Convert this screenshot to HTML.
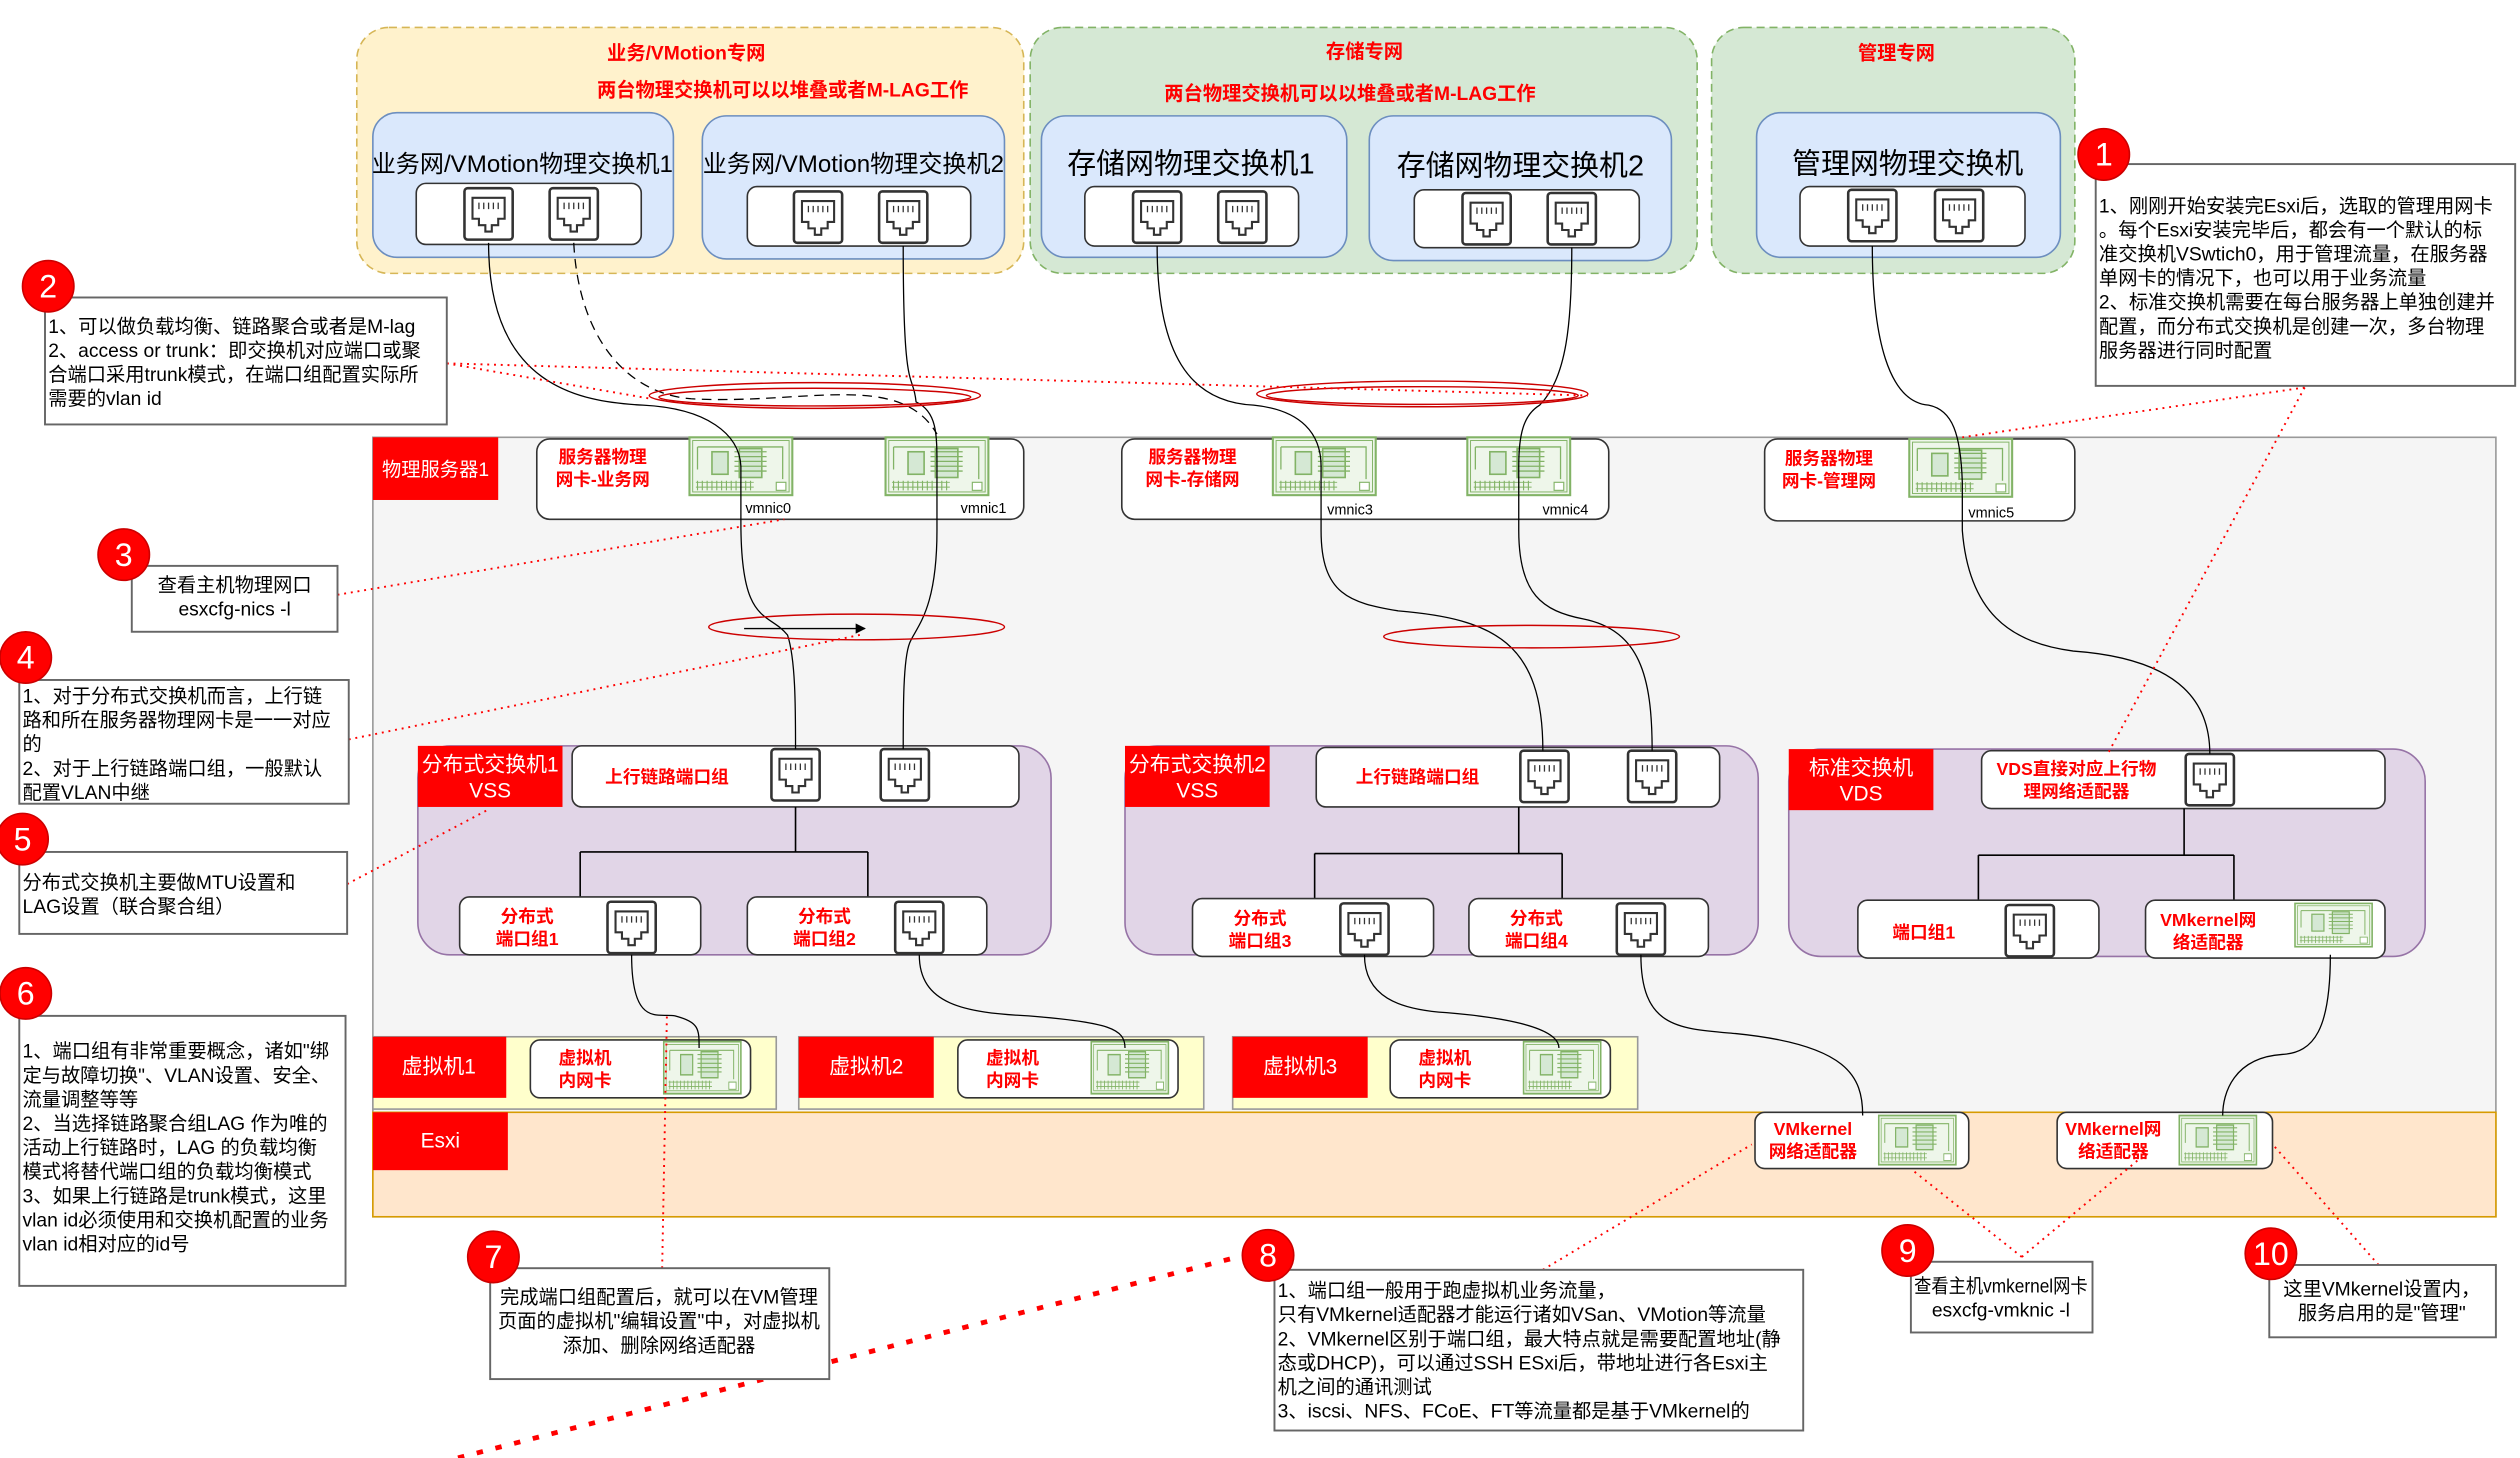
<!DOCTYPE html>
<html><head><meta charset="utf-8">
<style>
html,body{margin:0;padding:0;background:#fff;}
svg{display:block;}
text{font-family:"Liberation Sans","Noto Sans CJK SC",sans-serif;}
.r{fill:#ff0000;font-weight:bold;font-size:11px;}
.c{font-size:12px;fill:#000;}
.w{fill:#fff;font-size:13px;}
</style></head><body>
<svg width="2520" height="1458" viewBox="0 0 1568 907" xmlns="http://www.w3.org/2000/svg">
<defs>
<g id="port">
<rect x="0" y="0" width="30" height="32" rx="2" fill="#fff" stroke="#333" stroke-width="1.6"/>
<path d="M5 6 H25 V19 H21 V23 H17 V27 H13 V23 H9 V19 H5 Z" fill="none" stroke="#333" stroke-width="1.3"/>
<path d="M9 9 V13 M12 9 V13 M15 9 V13 M18 9 V13 M21 9 V13" stroke="#333" stroke-width="0.8"/>
</g>
<g id="nic">
<rect x="0" y="0" width="64" height="36" fill="#eef6ea" stroke="#82b366" stroke-width="1.3"/>
<rect x="2" y="2" width="60" height="32" fill="none" stroke="#82b366" stroke-width="0.6"/>
<rect x="14" y="9" width="10" height="14" fill="#d5e8d4" stroke="#82b366"/>
<rect x="31" y="7" width="14" height="18" fill="#d5e8d4" stroke="#82b366"/>
<path d="M28 9 H48 M28 12 H48 M28 15 H48 M28 18 H48 M28 21 H48" stroke="#82b366" stroke-width="0.8"/>
<path d="M5 6 H58 V26 M5 6 V20" fill="none" stroke="#82b366" stroke-width="0.8"/>
<path d="M4 28 H40 M4 31 H40" stroke="#82b366" stroke-width="0.6"/>
<path d="M5 27 V33 M8 27 V33 M11 27 V33 M14 27 V33 M17 27 V33 M20 27 V33 M23 27 V33 M26 27 V33 M29 27 V33 M32 27 V33 M35 27 V33 M38 27 V33" stroke="#82b366" stroke-width="0.7"/>
<rect x="54" y="28" width="6" height="5" fill="#fff" stroke="#82b366" stroke-width="0.7"/>
</g>
<marker id="ah" markerWidth="8" markerHeight="8" refX="7" refY="4" orient="auto"><path d="M0 0 L8 4 L0 8 Z" fill="#000"/></marker>
</defs>

<rect x="222" y="17" width="415" height="153" rx="20" fill="#fff2cc" stroke="#d6b656" stroke-dasharray="5,3"/>
<text x="427" y="37" class="r" text-anchor="middle" style="font-size:12px">业务/VMotion专网</text>
<text x="487" y="60" class="r" text-anchor="middle" style="font-size:12px">两台物理交换机可以以堆叠或者M-LAG工作</text>
<rect x="641" y="17" width="415" height="153" rx="20" fill="#d5e8d4" stroke="#82b366" stroke-dasharray="5,3"/>
<text x="849" y="36" class="r" text-anchor="middle" style="font-size:12px">存储专网</text>
<text x="840" y="62" class="r" text-anchor="middle" style="font-size:12px">两台物理交换机可以以堆叠或者M-LAG工作</text>
<rect x="1065" y="17" width="226" height="153" rx="20" fill="#d5e8d4" stroke="#82b366" stroke-dasharray="5,3"/>
<text x="1180" y="37" class="r" text-anchor="middle" style="font-size:12px">管理专网</text>

<rect x="232" y="70" width="187" height="90" rx="15" fill="#dae8fc" stroke="#6c8ebf"/>
<text x="325" y="107" text-anchor="middle" font-size="15">业务网/VMotion物理交换机1</text>
<rect x="259" y="114" width="140" height="38" rx="6" fill="#fff" stroke="#333"/>
<use href="#port" x="289" y="117"/><use href="#port" x="342" y="117"/>

<rect x="437" y="72" width="188" height="89" rx="15" fill="#dae8fc" stroke="#6c8ebf"/>
<text x="531" y="107" text-anchor="middle" font-size="15">业务网/VMotion物理交换机2</text>
<rect x="465" y="116" width="139" height="37" rx="6" fill="#fff" stroke="#333"/>
<use href="#port" x="494" y="119"/><use href="#port" x="547" y="119"/>

<rect x="648" y="72" width="190" height="88" rx="15" fill="#dae8fc" stroke="#6c8ebf"/>
<text x="741" y="108" text-anchor="middle" font-size="18">存储网物理交换机1</text>
<rect x="675" y="116" width="133" height="37" rx="6" fill="#fff" stroke="#333"/>
<use href="#port" x="705" y="119"/><use href="#port" x="758" y="119"/>

<rect x="852" y="72" width="188" height="90" rx="15" fill="#dae8fc" stroke="#6c8ebf"/>
<text x="946" y="109" text-anchor="middle" font-size="18">存储网物理交换机2</text>
<rect x="880" y="118" width="140" height="36" rx="6" fill="#fff" stroke="#333"/>
<use href="#port" x="910" y="120"/><use href="#port" x="963" y="120"/>

<rect x="1093" y="70" width="189" height="90" rx="15" fill="#dae8fc" stroke="#6c8ebf"/>
<text x="1187" y="108" text-anchor="middle" font-size="18">管理网物理交换机</text>
<rect x="1120" y="116" width="140" height="37" rx="6" fill="#fff" stroke="#333"/>
<use href="#port" x="1150" y="118"/><use href="#port" x="1204" y="118"/>

<rect x="232" y="272" width="1321" height="485" fill="#f5f5f5" stroke="#999"/>
<rect x="232" y="272" width="78" height="39" fill="#ff0000"/>
<text x="271" y="296" text-anchor="middle" class="w" style="font-size:12px">物理服务器1</text>

<rect x="334" y="273" width="303" height="50" rx="8" fill="#fff" stroke="#333"/>
<text x="375" y="288" class="r" text-anchor="middle">服务器物理</text>
<text x="375" y="302" class="r" text-anchor="middle">网卡-业务网</text>
<use href="#nic" x="429" y="272"/><use href="#nic" x="551" y="272"/>
<text x="478" y="319" font-size="9" text-anchor="middle">vmnic0</text>
<text x="612" y="319" font-size="9" text-anchor="middle">vmnic1</text>

<rect x="698" y="273" width="303" height="50" rx="8" fill="#fff" stroke="#333"/>
<text x="742" y="288" class="r" text-anchor="middle">服务器物理</text>
<text x="742" y="302" class="r" text-anchor="middle">网卡-存储网</text>
<use href="#nic" x="792" y="272"/><use href="#nic" x="913" y="272"/>
<text x="840" y="320" font-size="9" text-anchor="middle">vmnic3</text>
<text x="974" y="320" font-size="9" text-anchor="middle">vmnic4</text>

<rect x="1098" y="273" width="193" height="51" rx="8" fill="#fff" stroke="#333"/>
<text x="1138" y="289" class="r" text-anchor="middle">服务器物理</text>
<text x="1138" y="303" class="r" text-anchor="middle">网卡-管理网</text>
<use href="#nic" x="1188" y="273"/>
<text x="1239" y="322" font-size="9" text-anchor="middle">vmnic5</text>

<rect x="260" y="464" width="394" height="130" rx="20" fill="#e1d5e7" stroke="#9673a6"/>
<rect x="260" y="464" width="90" height="38" fill="#ff0000"/>
<text x="305" y="480" class="w" text-anchor="middle">分布式交换机1</text>
<text x="305" y="496" class="w" text-anchor="middle">VSS</text>
<rect x="356" y="464" width="278" height="38" rx="6" fill="#fff" stroke="#333"/>
<text x="415" y="487" class="r" text-anchor="middle">上行链路端口组</text>
<use href="#port" x="480" y="466"/><use href="#port" x="548" y="466"/>
<path d="M495 502 V530 M361 530 H540 M361 530 V558 M540 530 V558" stroke="#000" fill="none"/>
<rect x="286" y="558" width="150" height="36" rx="6" fill="#fff" stroke="#333"/>
<text x="328" y="574" class="r" text-anchor="middle">分布式</text>
<text x="328" y="588" class="r" text-anchor="middle">端口组1</text>
<use href="#port" x="378" y="561"/>
<rect x="465" y="558" width="149" height="36" rx="6" fill="#fff" stroke="#333"/>
<text x="513" y="574" class="r" text-anchor="middle">分布式</text>
<text x="513" y="588" class="r" text-anchor="middle">端口组2</text>
<use href="#port" x="557" y="561"/>

<rect x="700" y="464" width="394" height="130" rx="20" fill="#e1d5e7" stroke="#9673a6"/>
<rect x="700" y="464" width="90" height="38" fill="#ff0000"/>
<text x="745" y="480" class="w" text-anchor="middle">分布式交换机2</text>
<text x="745" y="496" class="w" text-anchor="middle">VSS</text>
<rect x="819" y="465" width="251" height="37" rx="6" fill="#fff" stroke="#333"/>
<text x="882" y="487" class="r" text-anchor="middle">上行链路端口组</text>
<use href="#port" x="946" y="467"/><use href="#port" x="1013" y="467"/>
<path d="M945 502 V531 M818 531 H972 M818 531 V559 M972 531 V559" stroke="#000" fill="none"/>
<rect x="742" y="559" width="150" height="36" rx="6" fill="#fff" stroke="#333"/>
<text x="784" y="575" class="r" text-anchor="middle">分布式</text>
<text x="784" y="589" class="r" text-anchor="middle">端口组3</text>
<use href="#port" x="834" y="562"/>
<rect x="914" y="559" width="149" height="36" rx="6" fill="#fff" stroke="#333"/>
<text x="956" y="575" class="r" text-anchor="middle">分布式</text>
<text x="956" y="589" class="r" text-anchor="middle">端口组4</text>
<use href="#port" x="1006" y="562"/>

<rect x="1113" y="466" width="396" height="129" rx="20" fill="#e1d5e7" stroke="#9673a6"/>
<rect x="1113" y="466" width="90" height="38" fill="#ff0000"/>
<text x="1158" y="482" class="w" text-anchor="middle">标准交换机</text>
<text x="1158" y="498" class="w" text-anchor="middle">VDS</text>
<rect x="1233" y="467" width="251" height="36" rx="6" fill="#fff" stroke="#333"/>
<text x="1292" y="482" class="r" text-anchor="middle">VDS直接对应上行物</text>
<text x="1292" y="496" class="r" text-anchor="middle">理网络适配器</text>
<use href="#port" x="1360" y="469"/>
<path d="M1359 503 V532 M1231 532 H1390 M1231 532 V560 M1390 532 V560" stroke="#000" fill="none"/>
<rect x="1156" y="560" width="150" height="36" rx="6" fill="#fff" stroke="#333"/>
<text x="1197" y="584" class="r" text-anchor="middle">端口组1</text>
<use href="#port" x="1248" y="563"/>
<rect x="1335" y="560" width="149" height="36" rx="6" fill="#fff" stroke="#333"/>
<text x="1374" y="576" class="r" text-anchor="middle">VMkernel网</text>
<text x="1374" y="590" class="r" text-anchor="middle">络适配器</text>
<use href="#nic" x="1428" y="562" transform="translate(1428 562) scale(0.75) translate(-1428 -562)"/>

<rect x="232" y="645" width="251" height="45" fill="#ffffcc" stroke="#999"/>
<rect x="232" y="645" width="83" height="38" fill="#ff0000"/>
<text x="273" y="668" class="w" text-anchor="middle">虚拟机1</text>
<rect x="330" y="647" width="137" height="36" rx="6" fill="#fff" stroke="#333"/>
<text x="364" y="662" class="r" text-anchor="middle">虚拟机</text>
<text x="364" y="676" class="r" text-anchor="middle">内网卡</text>
<use href="#nic" x="413" y="648" transform="translate(413 648) scale(0.75,0.9) translate(-413 -648)"/>

<rect x="497" y="645" width="252" height="45" fill="#ffffcc" stroke="#999"/>
<rect x="497" y="645" width="84" height="38" fill="#ff0000"/>
<text x="539" y="668" class="w" text-anchor="middle">虚拟机2</text>
<rect x="596" y="647" width="137" height="36" rx="6" fill="#fff" stroke="#333"/>
<text x="630" y="662" class="r" text-anchor="middle">虚拟机</text>
<text x="630" y="676" class="r" text-anchor="middle">内网卡</text>
<use href="#nic" x="679" y="648" transform="translate(679 648) scale(0.75,0.9) translate(-679 -648)"/>

<rect x="767" y="645" width="252" height="45" fill="#ffffcc" stroke="#999"/>
<rect x="767" y="645" width="84" height="38" fill="#ff0000"/>
<text x="809" y="668" class="w" text-anchor="middle">虚拟机3</text>
<rect x="865" y="647" width="137" height="36" rx="6" fill="#fff" stroke="#333"/>
<text x="899" y="662" class="r" text-anchor="middle">虚拟机</text>
<text x="899" y="676" class="r" text-anchor="middle">内网卡</text>
<use href="#nic" x="948" y="648" transform="translate(948 648) scale(0.75,0.9) translate(-948 -648)"/>

<rect x="232" y="692" width="1321" height="65" fill="#ffe6cc" stroke="#d79b00"/>
<rect x="232" y="692" width="84" height="36" fill="#ff0000"/>
<text x="274" y="714" class="w" text-anchor="middle">Esxi</text>
<rect x="1092" y="692" width="133" height="35" rx="6" fill="#fff" stroke="#333"/>
<text x="1128" y="706" class="r" text-anchor="middle">VMkernel</text>
<text x="1128" y="720" class="r" text-anchor="middle">网络适配器</text>
<use href="#nic" x="1169" y="694" transform="translate(1169 694) scale(0.75,0.85) translate(-1169 -694)"/>
<rect x="1280" y="692" width="134" height="35" rx="6" fill="#fff" stroke="#333"/>
<text x="1315" y="706" class="r" text-anchor="middle">VMkernel网</text>
<text x="1315" y="720" class="r" text-anchor="middle">络适配器</text>
<use href="#nic" x="1356" y="694" transform="translate(1356 694) scale(0.75,0.85) translate(-1356 -694)"/>

<g fill="none" stroke="#000" stroke-width="0.8">
<path d="M304 151 C304 240 360 250 400 252 C440 254 460 270 461 290 L461 325 C461 390 478 380 490 395 C495 410 495 440 495 466"/>
<path d="M357 151 C360 210 390 245 430 248 C500 252 560 230 583 270" stroke-dasharray="6,4"/>
<path d="M562 153 C562 250 568 230 570 250 C583 256 583 270 583 290 L583 330 C583 380 570 390 566 400 C562 410 562 440 562 466"/>
<path d="M720 153 C720 220 740 250 780 252 C810 255 822 270 822 290 L822 330 C822 370 840 375 870 380 C930 385 960 400 960 467"/>
<path d="M978 154 C978 200 975 235 958 252 C948 258 945 270 945 290 L945 330 C945 370 960 380 985 385 C1020 392 1028 420 1028 467"/>
<path d="M1165 153 C1165 210 1175 250 1200 252 C1215 255 1220 270 1221 300 L1221 330 C1225 380 1250 400 1290 405 C1360 410 1375 440 1375 469"/>
<path d="M393 594 C393 640 410 630 420 632 C435 636 435 640 435 652"/>
<path d="M572 594 C572 625 600 630 640 632 C690 636 700 640 700 652"/>
<path d="M849 594 C849 620 870 628 900 630 C960 635 970 645 970 652"/>
<path d="M1021 594 C1021 640 1045 640 1080 643 C1150 650 1159 670 1159 694"/>
<path d="M1450 594 C1450 640 1440 655 1420 656 C1390 658 1383 680 1383 694"/>
<path d="M463 391 H538" marker-end="url(#ah)"/>
</g>

<g fill="none" stroke="#cc0000" stroke-width="0.9">
<ellipse cx="507" cy="246" rx="103" ry="8"/><ellipse cx="507" cy="247" rx="97" ry="5.5"/>
<ellipse cx="885" cy="245" rx="103" ry="8"/><ellipse cx="885" cy="246" rx="97" ry="5.5"/>
<ellipse cx="533" cy="390" rx="92" ry="8"/>
<ellipse cx="953" cy="396" rx="92" ry="7"/>
</g>

<g fill="none" stroke="#ff0000" stroke-width="1.2" stroke-dasharray="1.2,3">
<path d="M278 226 L405 248"/><path d="M278 226 L988 246"/>
<path d="M1434 241 L1221 272"/><path d="M1434 241 L1312 468"/>
<path d="M210 370 L488 323"/>
<path d="M217 460 L535 395"/>
<path d="M216 550 L305 503"/>
<path d="M412 789 L415 630"/>
<path d="M960 790 L1090 712"/>
<path d="M1258 782 L1190 728"/><path d="M1258 782 L1330 722"/>
<path d="M1480 787 L1415 713"/>
</g>
<path d="M285 907 L778 780" stroke="#ff0000" stroke-width="3" stroke-dasharray="4,8" fill="none"/>

<g fill="#fff" stroke="#666" stroke-width="1.2">
<rect x="1304" y="102" width="261" height="138"/>
<rect x="28" y="185" width="250" height="79"/>
<rect x="82" y="352" width="128" height="41"/>
<rect x="12" y="423" width="205" height="77"/>
<rect x="12" y="530" width="204" height="51"/>
<rect x="12" y="632" width="203" height="168"/>
<rect x="305" y="789" width="211" height="69"/>
<rect x="793" y="790" width="329" height="100"/>
<rect x="1189" y="785" width="113" height="44"/>
<rect x="1412" y="787" width="141" height="45"/>
</g>
<g fill="#ff0000" stroke="#cc0000">
<circle cx="1309" cy="96" r="16"/><circle cx="30" cy="178" r="16"/><circle cx="77" cy="345" r="16"/>
<circle cx="16" cy="409" r="16"/><circle cx="14" cy="522" r="16"/><circle cx="16" cy="618" r="16"/>
<circle cx="307" cy="782" r="16"/><circle cx="789" cy="781" r="16"/><circle cx="1187" cy="778" r="16"/><circle cx="1413" cy="780" r="16"/>
</g>
<g fill="#fff" font-size="20" text-anchor="middle">
<text x="1309" y="103">1</text><text x="30" y="185">2</text><text x="77" y="352">3</text>
<text x="16" y="416">4</text><text x="14" y="529">5</text><text x="16" y="625">6</text>
<text x="307" y="789">7</text><text x="789" y="788">8</text><text x="1187" y="785">9</text><text x="1413" y="787">10</text>
</g>

<g class="c">
<text x="1306" y="132">1、刚刚开始安装完Esxi后，选取的管理用网卡</text>
<text x="1306" y="147">。每个Esxi安装完毕后，都会有一个默认的标</text>
<text x="1306" y="162">准交换机VSwtich0，用于管理流量，在服务器</text>
<text x="1306" y="177">单网卡的情况下，也可以用于业务流量</text>
<text x="1306" y="192">2、标准交换机需要在每台服务器上单独创建并</text>
<text x="1306" y="207">配置，而分布式交换机是创建一次，多台物理</text>
<text x="1306" y="222">服务器进行同时配置</text>

<text x="30" y="207">1、可以做负载均衡、链路聚合或者是M-lag</text>
<text x="30" y="222">2、access or trunk：即交换机对应端口或聚</text>
<text x="30" y="237">合端口采用trunk模式，在端口组配置实际所</text>
<text x="30" y="252">需要的vlan id</text>

<text x="146" y="368" text-anchor="middle">查看主机物理网口</text>
<text x="146" y="383" text-anchor="middle">esxcfg-nics -l</text>

<text x="14" y="437">1、对于分布式交换机而言，上行链</text>
<text x="14" y="452">路和所在服务器物理网卡是一一对应</text>
<text x="14" y="467">的</text>
<text x="14" y="482">2、对于上行链路端口组，一般默认</text>
<text x="14" y="497">配置VLAN中继</text>

<text x="14" y="553">分布式交换机主要做MTU设置和</text>
<text x="14" y="568">LAG设置（联合聚合组）</text>

<text x="14" y="658">1、端口组有非常重要概念，诸如"绑</text>
<text x="14" y="673">定与故障切换"、VLAN设置、安全、</text>
<text x="14" y="688">流量调整等等</text>
<text x="14" y="703">2、当选择链路聚合组LAG 作为唯的</text>
<text x="14" y="718">活动上行链路时，LAG 的负载均衡</text>
<text x="14" y="733">模式将替代端口组的负载均衡模式</text>
<text x="14" y="748">3、如果上行链路是trunk模式，这里</text>
<text x="14" y="763">vlan id必须使用和交换机配置的业务</text>
<text x="14" y="778">vlan id相对应的id号</text>

<text x="410" y="811" text-anchor="middle">完成端口组配置后，就可以在VM管理</text>
<text x="410" y="826" text-anchor="middle">页面的虚拟机"编辑设置"中，对虚拟机</text>
<text x="410" y="841" text-anchor="middle">添加、删除网络适配器</text>

<text x="795" y="807">1、端口组一般用于跑虚拟机业务流量，</text>
<text x="795" y="822">只有VMkernel适配器才能运行诸如VSan、VMotion等流量</text>
<text x="795" y="837">2、VMkernel区别于端口组，最大特点就是需要配置地址(静</text>
<text x="795" y="852">态或DHCP)，可以通过SSH ESxi后，带地址进行各Esxi主</text>
<text x="795" y="867">机之间的通讯测试</text>
<text x="795" y="882">3、iscsi、NFS、FCoE、FT等流量都是基于VMkernel的</text>

<text x="1245" y="804" text-anchor="middle" textLength="108" lengthAdjust="spacingAndGlyphs">查看主机vmkernel网卡</text>
<text x="1245" y="819" text-anchor="middle">esxcfg-vmknic -l</text>

<text x="1482" y="806" text-anchor="middle">这里VMkernel设置内，</text>
<text x="1482" y="821" text-anchor="middle">服务启用的是"管理"</text>
</g>
</svg>
</body></html>
